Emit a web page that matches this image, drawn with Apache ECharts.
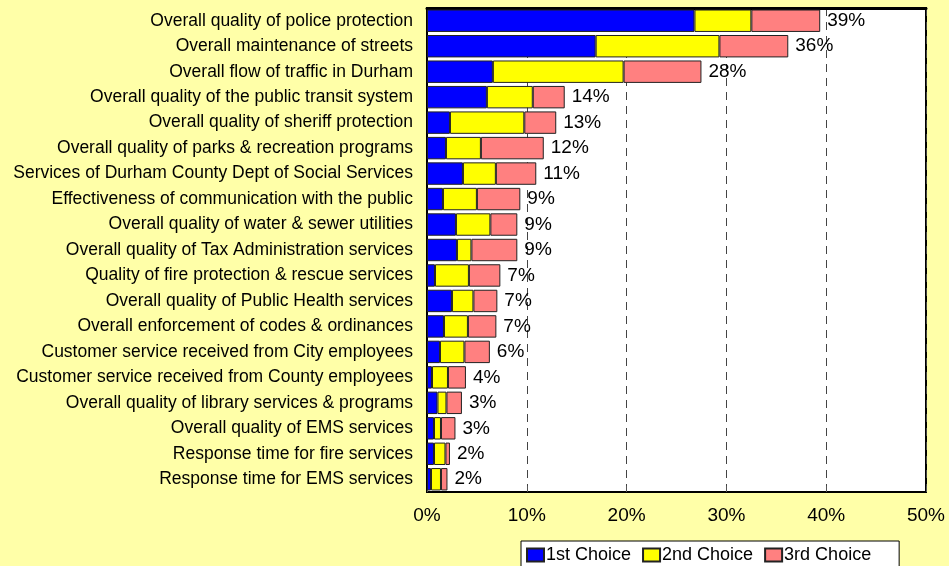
<!DOCTYPE html>
<html>
<head>
<meta charset="utf-8">
<script src="https://cdn.jsdelivr.net/npm/echarts@6/dist/echarts.min.js"></script>
<style>
  html, body { margin: 0; padding: 0; background: #ffffa8; }
  #chart { width: 949px; height: 566px; }
</style>
</head>
<body>
<div id="chart"></div>
<script>
const categories = [
  'Overall quality of police protection',
  'Overall maintenance of streets',
  'Overall flow of traffic in Durham',
  'Overall quality of the public transit system',
  'Overall quality of sheriff protection',
  'Overall quality of parks & recreation programs',
  'Services of Durham County Dept of Social Services',
  'Effectiveness of communication with the public',
  'Overall quality of water & sewer utilities',
  'Overall quality of Tax Administration services',
  'Quality of fire protection & rescue services',
  'Overall quality of Public Health services',
  'Overall enforcement of codes & ordinances',
  'Customer service received from City employees',
  'Customer service received from County employees',
  'Overall quality of library services & programs',
  'Overall quality of EMS services',
  'Response time for fire services',
  'Response time for EMS services'
]
const firstChoice = [26.8, 16.9, 6.6, 6.0, 2.3, 1.9, 3.6, 1.6, 2.9, 3.0, 0.8, 2.5, 1.7, 1.3, 0.5, 1.05, 0.7, 0.7, 0.4]
const secondChoice = [5.7, 12.4, 13.1, 4.6, 7.45, 3.5, 3.3, 3.4, 3.45, 1.45, 3.4, 2.15, 2.4, 2.45, 1.6, 0.9, 0.7, 1.15, 1.0]
const thirdChoice = [6.9, 6.9, 7.8, 3.2, 3.2, 6.3, 4.05, 4.35, 2.7, 4.6, 3.15, 2.4, 2.85, 2.55, 1.8, 1.55, 1.45, 0.45, 0.65]
const totalLabels = ['39%', '36%', '28%', '14%', '13%', '12%', '11%', '9%', '9%', '9%', '7%', '7%', '7%', '6%', '4%', '3%', '3%', '2%', '2%']
const xTicks = [0, 10, 20, 30, 40, 50]

const myChart = echarts.init(document.getElementById('chart'))

const barStyle = (color) => ({
  color: color,
  borderColor: '#222',
  borderWidth: 1
})

const option = {
  backgroundColor: '#ffffa8',
  textStyle: { fontFamily: 'Liberation Sans, Arial, sans-serif' },
  animation: false,
  grid: {
    left: 427,
    right: 23,
    top: 8,
    bottom: 74,
    show: true,
    backgroundColor: '#ffffff',
    borderColor: '#000',
    borderWidth: 2
  },
  legend: {
    left: 521,
    top: 541,
    itemWidth: 17,
    itemHeight: 13,
    itemGap: 11,
    padding: [5, 28, 8, 5],
    backgroundColor: '#ffffff',
    borderColor: '#000',
    borderWidth: 1,
    borderRadius: 0,
    icon: 'rect',
    textStyle: { fontSize: 18, color: '#000', padding: [0, 0, 0, -3] },
    data: ['1st Choice', '2nd Choice', '3rd Choice']
  },
  xAxis: [
    {
      type: 'value',
      min: xTicks[0],
      max: xTicks[xTicks.length - 1],
      interval: 10,
      axisLine: { show: true, lineStyle: { color: '#000', width: 2 } },
      axisTick: { show: true, inside: true, length: 6, lineStyle: { color: '#555' } },
      axisLabel: {
        formatter: (v) => v + '%',
        fontSize: 19,
        color: '#000',
        margin: 14
      },
      splitLine: {
        show: true,
        lineStyle: { color: '#444', type: [8, 6], width: 1 }
      }
    },
    {
      // thick top frame line
      type: 'value',
      position: 'top',
      min: xTicks[0],
      max: xTicks[xTicks.length - 1],
      interval: 10,
      axisLine: { show: true, lineStyle: { color: '#000', width: 3 } },
      axisTick: { show: false },
      axisLabel: { show: false },
      splitLine: { show: false }
    }
  ],
  yAxis: {
    type: 'category',
    data: categories,
    inverse: true,
    axisLine: { show: true, lineStyle: { color: '#000', width: 2 } },
    axisTick: { show: false },
    axisLabel: { fontSize: 17.5, color: '#000', margin: 14 }
  },
  series: [
    {
      name: '1st Choice',
      type: 'bar',
      stack: 'total',
      barCategoryGap: '12%',
      itemStyle: barStyle('#0000ff'),
      data: firstChoice
    },
    {
      name: '2nd Choice',
      type: 'bar',
      stack: 'total',
      itemStyle: barStyle('#ffff00'),
      data: secondChoice
    },
    {
      name: '3rd Choice',
      type: 'bar',
      stack: 'total',
      itemStyle: barStyle('#ff8080'),
      label: {
        show: true,
        position: 'right',
        distance: 7,
        fontSize: 19,
        color: '#000',
        formatter: (p) => totalLabels[p.dataIndex]
      },
      data: thirdChoice
    }
  ]
}

myChart.setOption(option)
window.addEventListener('resize', () => {
  myChart.resize()
})
</script>
</body>
</html>
